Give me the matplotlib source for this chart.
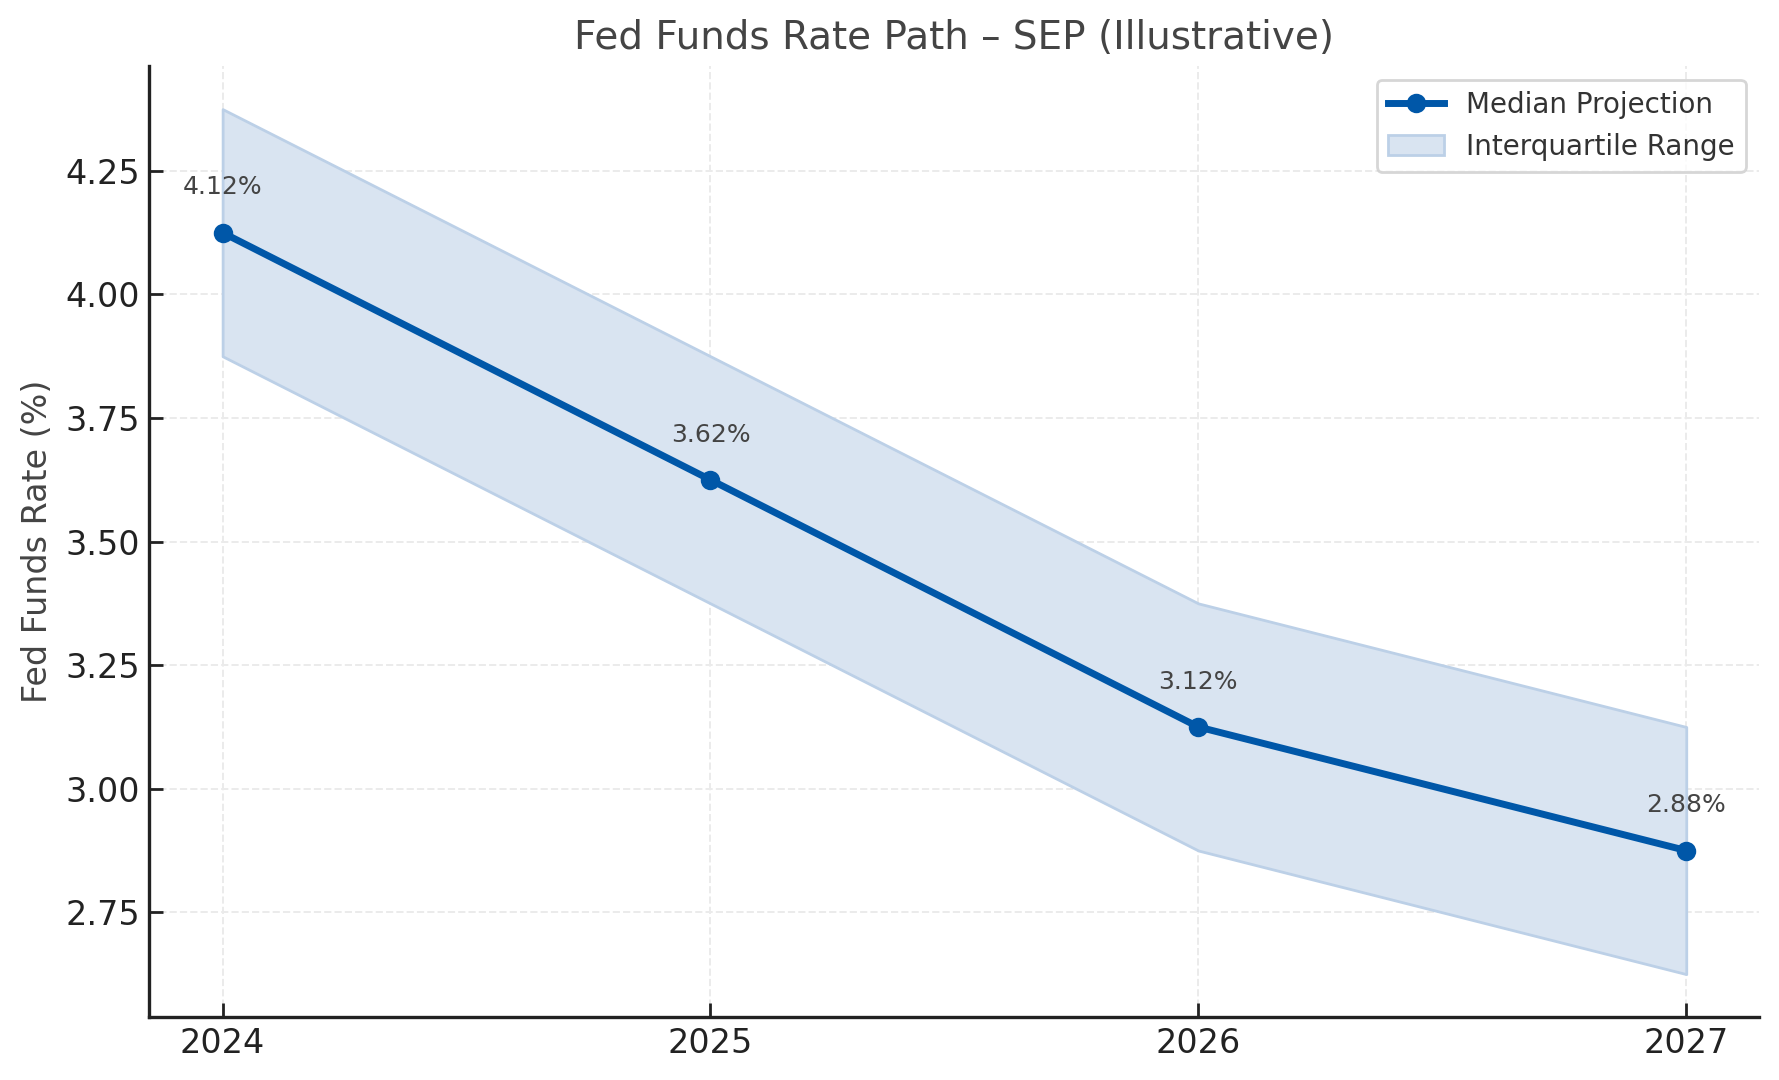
import matplotlib.pyplot as plt
import numpy as np

# Data
years = [2024, 2025, 2026, 2027]
median = [4.125, 3.625, 3.125, 2.875]
lower = [3.875, 3.375, 2.875, 2.625]
upper = [4.375, 3.875, 3.375, 3.125]
point_labels = ["4.12%", "3.62%", "3.12%", "2.88%"]

line_color = "#0057A8"

fig, ax = plt.subplots(figsize=(8.895, 5.4), dpi=200)
fig.subplots_adjust(left=0.084, right=0.989, top=0.939, bottom=0.058)

line, = ax.plot(years, median, "o-", color=line_color, linewidth=2.5, markersize=6,
                label="Median Projection", zorder=3)
band = ax.fill_between(years, lower, upper, facecolor="#d9e4f1", edgecolor="#bcd0e7",
                       linewidth=1.0, label="Interquartile Range", zorder=2)

for x, y, lab in zip(years, median, point_labels):
    ax.annotate(lab, (x, y), textcoords="offset points", xytext=(0, 12),
                ha="center", va="bottom", fontsize=9, color="#444444")

ax.set_title("Fed Funds Rate Path \u2013 SEP (Illustrative)", fontsize=14, color="#444444")
ax.set_ylabel("Fed Funds Rate (%)", fontsize=12, color="#444444")
ax.set_xticks(years)
ax.set_xticklabels([str(y) for y in years])
ax.set_yticks([2.75, 3.00, 3.25, 3.50, 3.75, 4.00, 4.25])
ax.yaxis.set_major_formatter(plt.FormatStrFormatter("%.2f"))
ax.tick_params(labelsize=12, colors="#222222", direction="in", length=5, width=1)

for side in ["top", "right"]:
    ax.spines[side].set_visible(False)
for side in ["left", "bottom"]:
    ax.spines[side].set_linewidth(1.2)
    ax.spines[side].set_color("#222222")

ax.grid(True, linestyle="--", color="#ebebeb", linewidth=0.7)
ax.set_axisbelow(True)

leg = ax.legend(handles=[line, band], loc="upper right", fontsize=10, frameon=True,
                fancybox=True)
leg.get_frame().set_edgecolor("#cccccc")
for t in leg.get_texts():
    t.set_color("#333333")

fig.savefig("out.png", dpi=200)
